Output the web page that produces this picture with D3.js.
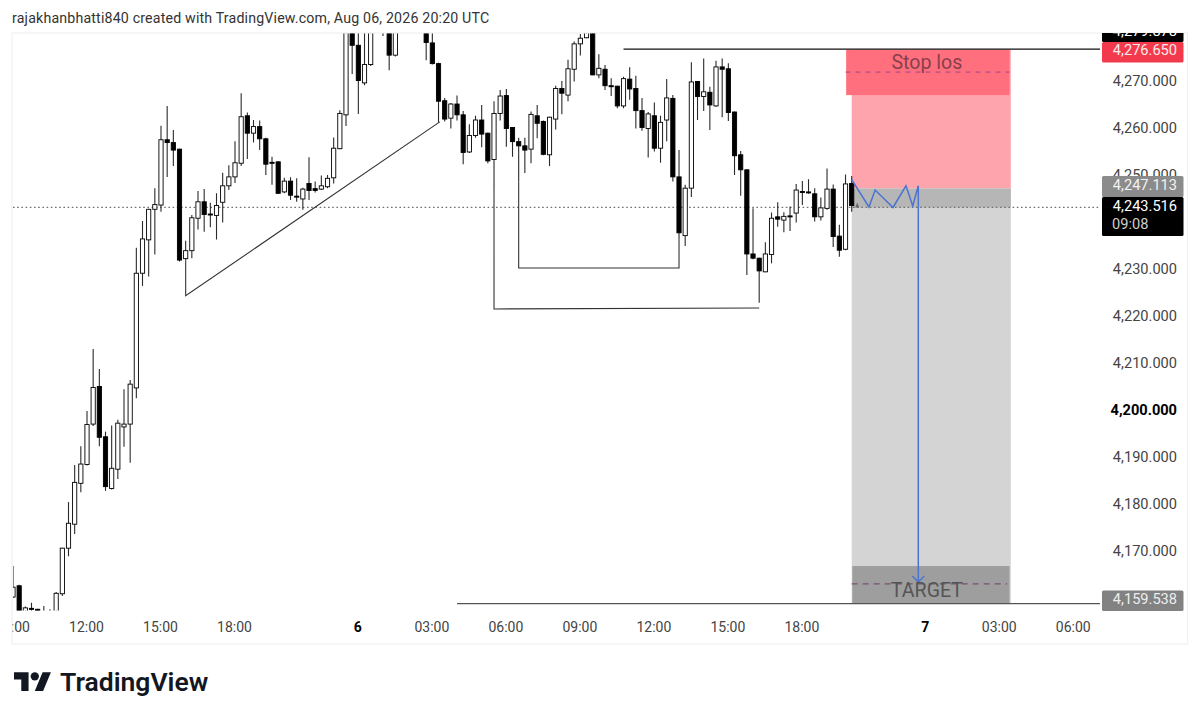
<!DOCTYPE html>
<html>
<head>
<meta charset="utf-8">
<script src="https://cdn.jsdelivr.net/npm/d3@7"></script>
<style>
html,body{margin:0;padding:0;background:#fff}
svg{display:block}
text{font-family:Roboto,sans-serif}
</style>
</head>
<body>
<svg id="chart" width="1200" height="718"></svg>
<script>
// ---- Data ----
const firstBar = -12;   // 30-minute bars, bar 0 = 12:00
const opens = [
4160.2,4162.6,4157.0,4157.8,4157.6,4156.5,4156.0,4155.6,4160.9,4170.6,
4175.7,4184.4,4188.4,4197.0,4205.0,4194.3,4183.3,4187.4,4196.4,4197.0,
4204.7,4229.1,4236.2,4242.7,4243.6,4257.5,4256.9,4255.5,4232.2,4233.9,
4240.8,4244.3,4241.7,4241.4,4244.2,4247.7,4249.6,4252.5,4262.6,4258.9,
4260.3,4257.7,4252.7,4252.8,4246.4,4248.7,4245.5,4244.9,4248.2,4247.1,
4247.0,4247.5,4249.4,4255.6,4262.8,4281.3,4277.6,4269.6,4273.5,4286.0,
4289.0,4284.0,4275.5,4286.0,4290.0,4293.0,4288.0,4284.0,4278.1,4273.7,
4265.8,4262.1,4265.1,4262.8,4254.9,4258.4,4261.7,4258.9,4253.3,4263.1,
4266.9,4260.1,4257.1,4256.2,4255.5,4262.6,4261.4,4254.3,4261.9,4268.4,
4267.0,4272.5,4277.9,4279.2,4284.0,4271.3,4272.5,4269.0,4268.9,4264.7,
4270.4,4268.4,4263.7,4259.9,4262.6,4255.7,4261.7,4266.3,4249.6,4237.1,
4247.2,4269.9,4266.7,4267.6,4264.7,4273.0,4272.6,4263.4,4254.3,4251.1,
4233.2,4232.3,4229.4,4233.1,4241.1,4240.4,4241.3,4241.9,4246.5,4246.4,
4246.0,4241.1,4242.9,4247.0,4237.0,4234.2,4248.2];
const highs = [
4166.8,4162.8,4158.2,4159.0,4157.7,4158.3,4157.6,4161.3,4170.7,4180.4,
4188.3,4192.3,4199.8,4213.0,4208.7,4195.4,4196.7,4197.9,4204.4,4206.4,
4234.5,4240.2,4242.8,4247.2,4260.5,4264.7,4259.6,4255.6,4236.0,4241.5,
4246.6,4247.0,4244.1,4246.1,4250.5,4252.1,4257.2,4267.4,4263.3,4261.7,
4261.6,4257.9,4253.9,4252.9,4249.4,4249.5,4249.3,4247.3,4253.8,4248.6,
4249.9,4250.0,4258.0,4263.8,4283.0,4285.0,4283.0,4282.0,4288.0,4292.0,
4293.0,4287.0,4288.0,4292.0,4295.0,4296.0,4291.0,4286.0,4281.0,4273.9,
4266.4,4265.3,4266.9,4263.6,4260.8,4262.6,4264.9,4259.0,4265.7,4268.1,
4268.3,4260.2,4257.9,4257.9,4263.5,4264.9,4261.6,4262.4,4269.0,4270.0,
4274.5,4278.4,4280.0,4286.0,4285.5,4275.7,4273.4,4270.6,4269.0,4270.9,
4272.9,4271.1,4266.4,4263.4,4265.4,4262.6,4270.4,4267.0,4255.3,4247.9,
4274.0,4270.0,4274.8,4268.8,4274.3,4274.8,4273.8,4263.5,4255.1,4251.2,
4242.9,4232.4,4235.7,4242.0,4244.2,4242.1,4243.3,4248.1,4248.7,4249.1,
4247.2,4245.2,4251.4,4248.0,4239.4,4250.1,4249.8];
const lows = [
4160.0,4156.5,4156.5,4156.8,4157.0,4155.5,4155.0,4154.8,4160.4,4168.9,
4173.6,4182.5,4188.2,4196.6,4192.3,4182.8,4183.1,4185.3,4192.2,4188.8,
4202.5,4226.4,4228.4,4233.1,4242.2,4249.6,4251.9,4231.6,4231.8,4232.3,
4238.4,4237.9,4238.9,4236.3,4239.9,4246.8,4248.3,4251.9,4253.4,4256.9,
4255.3,4250.0,4247.9,4246.0,4246.1,4244.7,4244.3,4242.6,4244.7,4246.3,
4246.8,4247.2,4248.2,4255.5,4260.4,4271.5,4263.0,4269.1,4273.2,4283.0,
4279.6,4272.3,4275.2,4282.0,4286.0,4285.0,4282.0,4274.4,4273.5,4261.1,
4261.4,4259.9,4261.6,4252.3,4254.7,4257.9,4255.9,4252.5,4246.8,4261.6,
4256.0,4253.9,4248.6,4250.4,4252.5,4257.8,4254.2,4251.9,4259.7,4262.9,
4265.7,4269.9,4275.4,4279.1,4271.2,4270.6,4268.1,4266.8,4264.2,4264.2,
4266.0,4259.9,4259.4,4253.7,4255.0,4252.6,4257.2,4248.6,4236.2,4234.9,
4245.3,4261.7,4263.6,4259.6,4264.5,4262.3,4261.5,4250.0,4245.6,4228.7,
4232.1,4222.8,4229.3,4231.2,4239.0,4237.8,4238.1,4239.9,4243.6,4246.0,
4240.1,4240.3,4242.6,4234.7,4232.6,4234.0,4242.2];
const closes = [
4162.3,4157.0,4157.9,4157.6,4157.2,4156.2,4155.5,4161.0,4170.6,4175.9,
4184.6,4188.5,4196.9,4204.8,4194.2,4183.7,4187.6,4197.2,4197.0,4205.5,
4229.1,4236.4,4242.7,4243.7,4257.5,4256.9,4255.3,4231.9,4233.9,4240.9,
4244.3,4241.6,4241.5,4243.5,4247.7,4249.6,4252.6,4262.4,4258.9,4260.3,
4257.7,4252.3,4252.5,4246.1,4248.7,4245.7,4245.3,4247.0,4246.7,4246.7,
4247.7,4249.3,4255.7,4263.1,4281.3,4277.6,4270.1,4273.5,4286.0,4289.0,
4284.0,4275.5,4286.0,4290.0,4293.0,4288.0,4284.0,4278.2,4273.7,4265.7,
4261.9,4265.1,4262.8,4254.8,4258.4,4261.7,4258.7,4253.0,4263.1,4266.8,
4259.9,4257.1,4256.2,4255.3,4262.9,4261.0,4254.4,4262.3,4268.4,4267.4,
4272.6,4277.9,4279.1,4284.0,4271.3,4272.7,4269.0,4268.8,4264.7,4270.5,
4268.3,4263.7,4260.1,4263.0,4255.7,4261.2,4266.4,4249.6,4237.7,4247.2,
4269.8,4266.7,4267.7,4264.9,4273.0,4272.5,4263.3,4254.1,4251.1,4233.2,
4232.3,4229.6,4233.2,4240.8,4240.6,4241.2,4241.2,4246.8,4246.4,4246.3,
4241.1,4243.0,4247.0,4236.9,4234.0,4248.1,4243.5];

const priceTicks = [4170,4180,4190,4200,4210,4220,4230,4240,4250,4260,4270];
const boldPrice = 4200;
const timeTickBars = [-12,0,12,24,44,56,68,80,92,104,116,136,148,160];
const timeTickLabels = ["09:00","12:00","15:00","18:00","6","03:00","06:00","09:00","12:00","15:00","18:00","7","03:00","06:00"];
const dayLabels = ["6","7"];

const stopPrice = 4276.65, entryPrice = 4247.113, targetPrice = 4159.538, lastPrice = 4243.516, hiddenPrice = 4279.878;
const priceLineLevel = 4243.1, targetLineLevel = 4158.8;
const stopZoneLow = 4267, targetZoneHigh = 4166.8, stopDash = 4271.9, targetDash = 4163;
const trendA = [[16,4231.8],[16,4224.3],[57.2,4261.3]];
const boxB = [[66,4246.8],[66,4221.5],[109,4221.7]];
const boxC = [[70,4248.6],[70,4230.2],[96,4230.2],[96,4236.2]];
const topLineBars = [87,164.3], bottomLineBars = [60,164.3];
const pathBars  = [124,126.8,127.8,130.7,132.8,133.9,134.8,134.8];
const pathPrice = [4249.0,4243.2,4246.8,4243.1,4247.7,4243.4,4247.7,4163.4];

// ---- Scales ----
const x = d3.scaleLinear().domain([-12,160]).range([13,1073.7]);
const y = d3.scaleLinear().domain([4200,4270]).range([410,81]);
const svg = d3.select("#chart");
const fmt = d3.format(",.3f");

const defs = svg.append("defs");
defs.append("clipPath").attr("id","pane").append("rect").attr("x",13).attr("y",33.5).attr("width",1087).attr("height",577);
defs.append("clipPath").attr("id","frameClip").append("rect").attr("x",12.5).attr("y",33).attr("width",1175).attr("height",611);

// Header
svg.append("text").attr("x",12).attr("y",23).attr("font-size",14.2).attr("fill","#333").attr("letter-spacing","0.012em")
  .text("rajakhanbhatti840 created with TradingView.com, Aug 06, 2026 20:20 UTC");

// Frame
svg.append("rect").attr("x",12).attr("y",33).attr("width",1175.5).attr("height",611)
  .attr("fill","#fff").attr("stroke","#f0f1f4").attr("stroke-width",1.2);

const pane = svg.append("g").attr("clip-path","url(#pane)");

// Position tool zones
const zone = (b0,b1,p0,p1,col)=>pane.append("rect")
  .attr("x",x(b0)).attr("width",x(b1)-x(b0)).attr("y",y(p0)).attr("height",y(p1)-y(p0)).attr("fill",col);
zone(124,149.8,stopPrice,entryPrice,"#fda4ad");
zone(124,149.8,entryPrice,targetLineLevel,"#d4d4d4");
zone(124,149.8,entryPrice,priceLineLevel,"#b6b6b6");
zone(123.1,149.6,stopPrice,stopZoneLow,"#ff6f7d");
zone(124.1,149.6,targetZoneHigh,targetLineLevel,"#9e9e9e");

// Price dotted line
pane.append("line").attr("x1",13).attr("x2",1100).attr("y1",y(priceLineLevel)).attr("y2",y(priceLineLevel))
  .attr("stroke","#707070").attr("stroke-width",1.2).attr("stroke-dasharray","1.6 2.6");

// Candles
const bars = opens.map((o,i)=>({bar:firstBar+i,o,h:highs[i],l:lows[i],c:closes[i]}));
const bodyW = 4.2;
const candle = pane.append("g").selectAll("g").data(bars).join("g");
candle.append("line").attr("x1",d=>x(d.bar)).attr("x2",d=>x(d.bar))
  .attr("y1",d=>y(d.h)).attr("y2",d=>y(d.l)).attr("stroke","#2a2a2a").attr("stroke-width",1.1);
candle.append("rect").attr("x",d=>x(d.bar)-bodyW/2).attr("width",bodyW)
  .attr("y",d=>y(Math.max(d.o,d.c))).attr("height",d=>Math.max(1,Math.abs(y(d.o)-y(d.c))))
  .attr("fill",d=>d.c>=d.o?"#fff":"#000").attr("stroke","#000").attr("stroke-width",0.9);

// Small marker by last bar
pane.append("path").attr("d",d3.line()([[x(124.9)-2,y(priceLineLevel)],[x(124.9),y(priceLineLevel)-5],[x(124.9)+2,y(priceLineLevel)]]))
  .attr("fill","#666");

// Drawn lines
const lineGen = d3.line().x(d=>x(d[0])).y(d=>y(d[1]));
[trendA,boxB,boxC].forEach(pts=>pane.append("path").attr("d",lineGen(pts)).attr("fill","none").attr("stroke","#333").attr("stroke-width",1.1));
pane.append("line").attr("x1",x(topLineBars[0])).attr("x2",x(topLineBars[1])).attr("y1",y(stopPrice)-0.7).attr("y2",y(stopPrice)-0.7).attr("stroke","#111").attr("stroke-width",1.3);
pane.append("line").attr("x1",x(bottomLineBars[0])).attr("x2",x(bottomLineBars[1])).attr("y1",y(targetLineLevel)).attr("y2",y(targetLineLevel)).attr("stroke","#555").attr("stroke-width",1.3);

// Dashed levels
pane.append("line").attr("x1",x(123)).attr("x2",x(149.6)).attr("y1",y(stopDash)).attr("y2",y(stopDash)).attr("stroke","#a0488f").attr("stroke-dasharray","5 5").attr("stroke-width",1);
pane.append("line").attr("x1",x(124)).attr("x2",x(149.2)).attr("y1",y(targetDash)).attr("y2",y(targetDash)).attr("stroke","#6b3f66").attr("stroke-dasharray","6 5").attr("stroke-width",1);

// Zone labels
svg.append("text").attr("x",x(136.2)).attr("y",y(stopDash)-3).attr("text-anchor","middle").attr("font-size",19.6).attr("fill","#8a3f4e").text("Stop los");
svg.append("text").attr("x",x(136.2)).attr("y",597).attr("text-anchor","middle").attr("font-size",19.6).attr("fill","#555").text("TARGET");

// Blue path with arrow head
const pathPts = pathBars.map((b,i)=>[b,pathPrice[i]]);
pane.append("path").attr("d",lineGen(pathPts)).attr("fill","none").attr("stroke","#4a74d0").attr("stroke-width",1.5);
const tipX = x(pathBars[pathBars.length-1]), tipY = y(pathPrice[pathPrice.length-1]);
pane.append("path").attr("d",`M${tipX-6},${tipY-6}L${tipX},${tipY}L${tipX+6},${tipY-6}`).attr("fill","none").attr("stroke","#4a74d0").attr("stroke-width",1.4);

// Axes
const yAxis = d3.axisRight(y).tickValues(priceTicks).tickSize(0).tickPadding(0).tickFormat(fmt);
const gy = svg.append("g").attr("transform","translate(1177,0)").call(yAxis);
gy.select(".domain").remove();
gy.selectAll("text").attr("x",0).attr("text-anchor","end").attr("font-family","Roboto,sans-serif").attr("font-size",14.6)
  .attr("fill",d=>d===boldPrice?"#000":"#444").attr("font-weight",d=>d===boldPrice?700:400);

const xAxis = d3.axisBottom(x).tickValues(timeTickBars).tickSize(0).tickPadding(0)
  .tickFormat(d=>timeTickLabels[timeTickBars.indexOf(d)]);
const gx = svg.append("g").attr("clip-path","url(#frameClip)").append("g").attr("transform","translate(-1,632)").call(xAxis);
gx.select(".domain").remove();
gx.selectAll("text").attr("y",0).attr("dy",0).attr("font-family","Roboto,sans-serif").attr("font-size",14)
  .attr("fill",(d,i)=>dayLabels.includes(timeTickLabels[i])?"#000":"#444")
  .attr("font-weight",(d,i)=>dayLabels.includes(timeTickLabels[i])?700:400);

// Price labels
const labelClip = svg.append("g").attr("clip-path","url(#frameClip)");
function priceLabel(top,h,baseline,fill,txt,txtCol){
  labelClip.append("rect").attr("x",1102).attr("y",top).attr("width",81.5).attr("height",h).attr("rx",1.5).attr("fill",fill);
  labelClip.append("text").attr("x",1177).attr("y",baseline).attr("text-anchor","end").attr("font-size",14.6).attr("fill",txtCol).text(txt);
}
priceLabel(22,20,36,"#000",fmt(hiddenPrice),"#fff");
priceLabel(42,20.5,55.3,"#f23a4c",fmt(stopPrice),"#fbeaec");
priceLabel(176,21,190.3,"#8b8b8b",fmt(entryPrice),"#f2f2f2");
priceLabel(197,39,211,"#000",fmt(lastPrice),"#fff");
labelClip.append("text").attr("x",1112).attr("y",228.7).attr("font-size",14.6).attr("fill","#cfcfcf").text("09:08");
priceLabel(590.5,20.5,604.3,"#828282",fmt(targetPrice),"#eee");

// Logo
const logo = svg.append("g").attr("transform","translate(14,668) scale(1.04)");
logo.append("path").attr("d","M14 22H7V11H0V4h14v18zM28 22h-8l7.5-18h8L28 22z").attr("fill","#131722");
logo.append("circle").attr("cx",20).attr("cy",8).attr("r",4).attr("fill","#131722");
svg.append("text").attr("x",60).attr("y",691).attr("font-family","Inter,sans-serif").attr("font-size",26.5).attr("font-weight",600).attr("fill","#131722").text("TradingView");
</script>
</body>
</html>
